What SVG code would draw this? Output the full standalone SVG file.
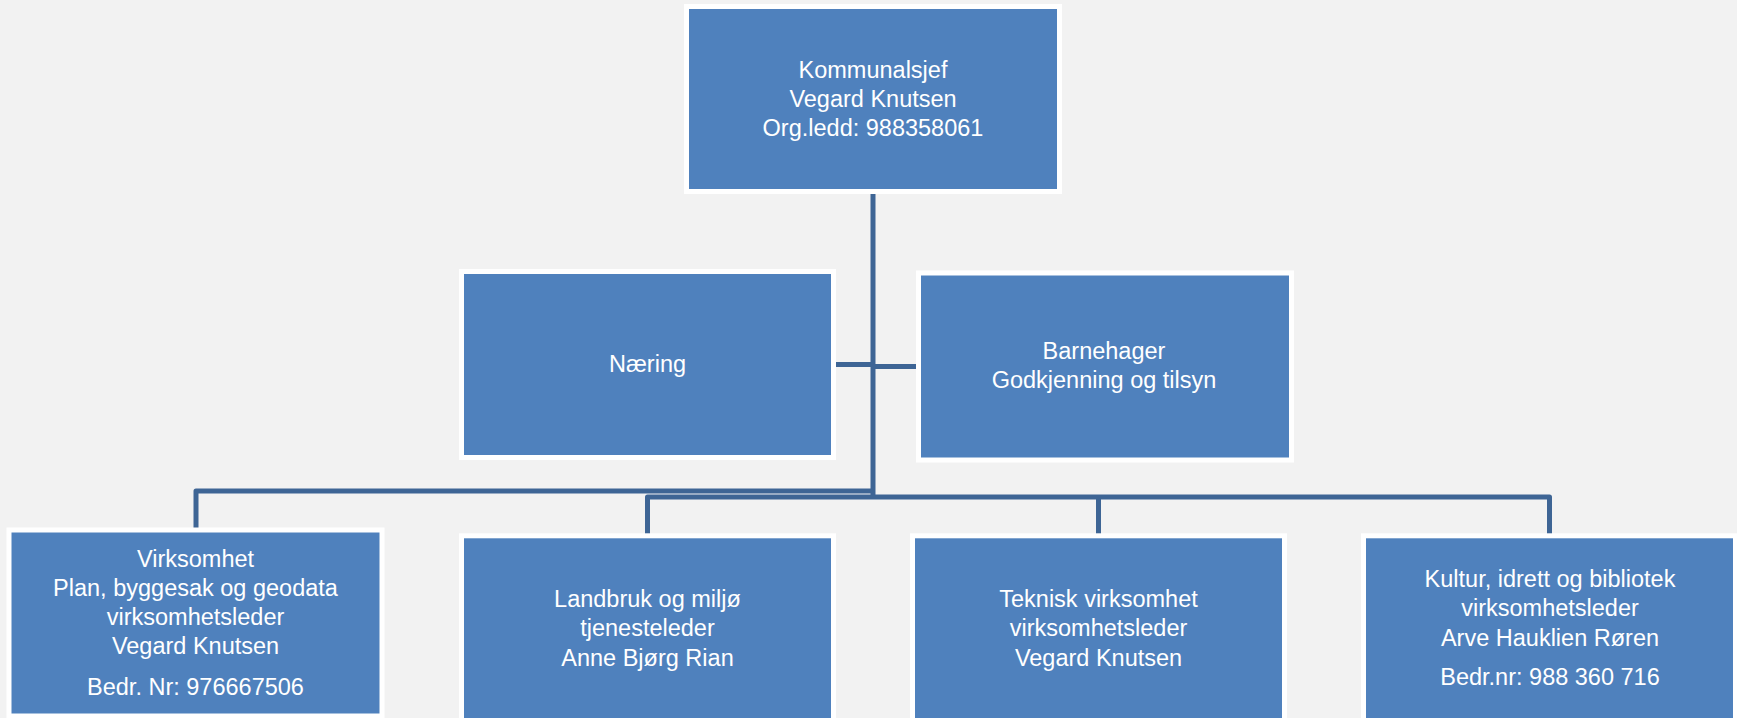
<svg xmlns="http://www.w3.org/2000/svg" width="1737" height="718" viewBox="0 0 1737 718">
<style>
.box{fill:#4f81bd;stroke:#ffffff;stroke-width:5}
.t{font-family:"Liberation Sans",Arial,sans-serif;font-size:23.5px;fill:#ffffff;text-anchor:middle}
.c{fill:none;stroke:#3e6595;stroke-width:5;stroke-linejoin:round}
</style>
<rect width="1737" height="718" fill="#f2f2f2"/>
<g id="connectors">
<path class="c" d="M873,194 V499"/>
<path class="c" d="M836,364.5 H873"/>
<path class="c" d="M873,366.5 H916"/>
<path class="c" d="M196,528 V491 H873"/>
<path class="c" d="M647.5,534 V497 H1549.5 V534"/>
<path class="c" d="M1098.5,497 V534"/>
</g>
<g id="kommunalsjef">
<rect class="box" x="686.5" y="6.5" width="373" height="185"/>
<text class="t" x="873" y="78">Kommunalsjef</text>
<text class="t" x="873" y="107">Vegard Knutsen</text>
<text class="t" x="873" y="136">Org.ledd: 988358061</text>
</g>
<g id="naering">
<rect class="box" x="461.5" y="271.5" width="372" height="186"/>
<text class="t" x="647.5" y="372">Næring</text>
</g>
<g id="barnehager">
<rect class="box" x="918.5" y="273" width="373" height="187"/>
<text class="t" x="1104" y="359">Barnehager</text>
<text class="t" x="1104" y="388">Godkjenning og tilsyn</text>
</g>
<g id="virksomhet-plan">
<rect class="box" x="9" y="530" width="373" height="186"/>
<text class="t" x="195.5" y="567">Virksomhet</text>
<text class="t" x="195.5" y="596">Plan, byggesak og geodata</text>
<text class="t" x="195.5" y="625">virksomhetsleder</text>
<text class="t" x="195.5" y="654">Vegard Knutsen</text>
<text class="t" x="195.5" y="695">Bedr. Nr: 976667506</text>
</g>
<g id="landbruk">
<rect class="box" x="461.5" y="535.8" width="372" height="200"/>
<text class="t" x="647.5" y="606.5">Landbruk og miljø</text>
<text class="t" x="647.5" y="636">tjenesteleder</text>
<text class="t" x="647.5" y="665.5">Anne Bjørg Rian</text>
</g>
<g id="teknisk">
<rect class="box" x="912.5" y="535.8" width="372" height="200"/>
<text class="t" x="1098.5" y="606.5">Teknisk virksomhet</text>
<text class="t" x="1098.5" y="636">virksomhetsleder</text>
<text class="t" x="1098.5" y="665.5">Vegard Knutsen</text>
</g>
<g id="kultur">
<rect class="box" x="1363.5" y="535.8" width="372" height="200"/>
<text class="t" x="1550" y="586.5">Kultur, idrett og bibliotek</text>
<text class="t" x="1550" y="616">virksomhetsleder</text>
<text class="t" x="1550" y="645.5">Arve Hauklien Røren</text>
<text class="t" x="1550" y="685">Bedr.nr: 988 360 716</text>
</g>
</svg>
